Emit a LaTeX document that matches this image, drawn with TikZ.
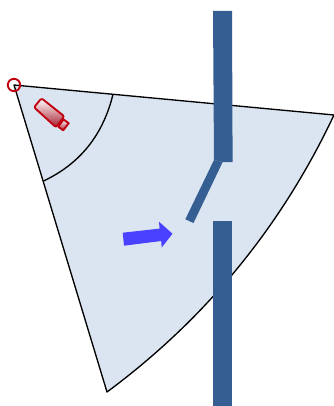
\documentclass[tikz,border=0pt]{standalone}
\definecolor{fov}{HTML}{DBE5F1}
\definecolor{wall}{HTML}{355F93}
\definecolor{arrowblue}{HTML}{4A40FF}
\definecolor{camred}{HTML}{C00010}
\definecolor{camdark}{HTML}{A82030}
\begin{document}
\begin{tikzpicture}[x=0.75pt,y=-0.75pt,
  sector/.style={fill=fov,draw=black,line width=1pt,line join=round},
  edge/.style={draw=black,line width=1pt},
  wallpart/.style={fill=wall,draw=none},
  cam/.style={draw=camred,line width=1.4pt,line join=round,top color=white,bottom color=camdark}]
\useasboundingbox (0,0) rectangle (334,406);
\coordinate (apex) at (14,85);
\coordinate (far) at (334,115);
\coordinate (low) at (107,392);
\coordinate (nearA) at (113,94.3);
\coordinate (nearB) at (43.5,181);
% field of view
\path[sector] (apex) -- (far) .. controls (281.5,226.3) and (205.9,318.7) .. (low) -- cycle;
% near arc
\path[edge] (nearA) .. controls (103.3,133.9) and (81,163.3) .. (nearB);
% walls and door
\fill[wallpart] (213,11) -- (232,11) -- (232.6,162) -- (222.5,162) -- (214,160) -- cycle;
\fill[wallpart] (213,221) -- (232,221) -- (232,406) -- (213,406) -- cycle;
\fill[wallpart] (214,160) -- (222.7,162) -- (193.5,223) -- (185.3,219.3) -- cycle;
% arrow
\fill[arrowblue] (122.7,232.7) -- (159.6,228.6) -- (159,221.7) -- (172.5,233.7) -- (161.7,247.5) -- (161.2,241) -- (124,245.7) -- cycle;
% camera
\path[cam,rounded corners=1.5pt] (34,107.3) -- (41.5,98.3) -- (64.3,116.3) -- (56,127.3) -- cycle;
\path[cam] (63.5,119.5) -- (68.7,123.2) -- (63.2,130.3) -- (58.3,126.7) -- cycle;
% camera position marker
\draw[camred,line width=1.4pt] (apex) circle[radius=6.2];
\end{tikzpicture}
\end{document}
